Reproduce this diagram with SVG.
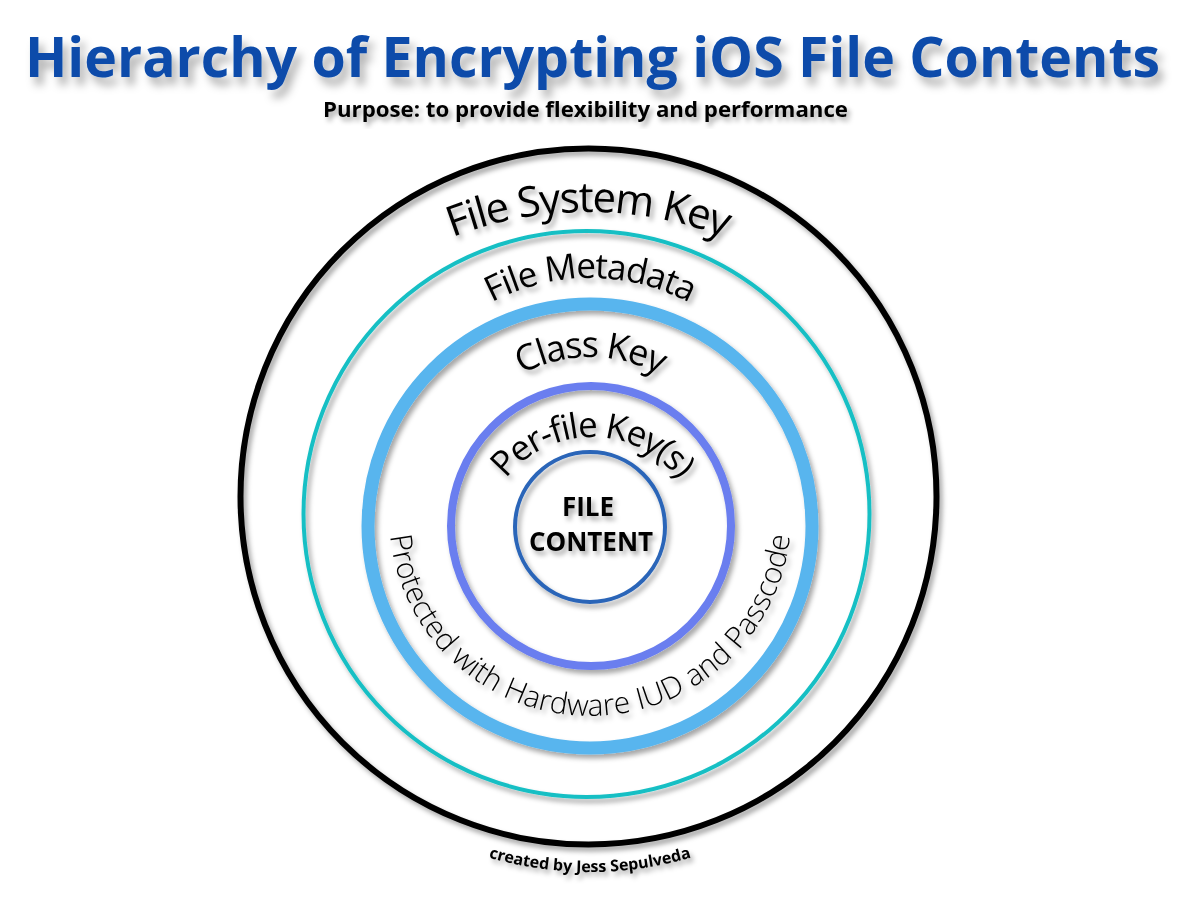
<svg xmlns="http://www.w3.org/2000/svg" xmlns:xlink="http://www.w3.org/1999/xlink" width="1200" height="901" viewBox="0 0 1200 901">
  <defs>
    <filter id="shadow" x="-20%" y="-20%" width="140%" height="140%">
      <feDropShadow dx="3" dy="4" stdDeviation="2.5" flood-color="#000" flood-opacity="0.35"/>
    </filter>
    <filter id="shadowBig" x="-10%" y="-30%" width="120%" height="170%">
      <feDropShadow dx="5" dy="8" stdDeviation="4" flood-color="#000" flood-opacity="0.3"/>
    </filter>
    <path id="p-fsk" d="M 209 591 A 379 379 0 0 1 967 591"/>
    <path id="p-fm" d="M 378 490 A 212 212 0 0 1 802 490"/>
    <path id="p-ck" d="M 444 503 A 146 146 0 0 1 736 503"/>
    <path id="p-pfk" d="M 482 547 A 110 110 0 0 1 702 547"/>
    <path id="p-prot" d="M 389 515 A 201 201 0 0 0 791 515"/>
    <path id="p-created" d="M 230 512 A 360 360 0 0 0 950 512"/>
  </defs>
  <style>
    .ring { fill: none; filter: url(#shadow); }
    .lbl { font-family: "Open Sans", "Liberation Sans", sans-serif; fill: #000; filter: url(#shadow); }
    .arc { font-weight: 400; }
    .bold { font-weight: 700; }
  </style>
  <rect width="1200" height="901" fill="#fff"/>

  <g id="title">
    <text x="592.5" y="77" text-anchor="middle" textLength="1135" lengthAdjust="spacingAndGlyphs" font-family="'Open Sans', 'Liberation Sans', sans-serif" font-weight="700" font-size="56" fill="#0B4BAA" filter="url(#shadowBig)">Hierarchy of Encrypting iOS File Contents</text>
    <text class="lbl bold" x="585.5" y="117" text-anchor="middle" textLength="525" lengthAdjust="spacingAndGlyphs" font-size="22">Purpose: to provide flexibility and performance</text>
  </g>

  <g id="file-system-key">
    <circle class="ring" cx="588.5" cy="496.5" r="348" stroke="#000" stroke-width="6"/>
    <text class="lbl arc" font-size="42" letter-spacing="-1.5"><textPath href="#p-fsk" xlink:href="#p-fsk" startOffset="50%" text-anchor="middle">File System Key</textPath></text>
  </g>

  <g id="file-metadata">
    <circle class="ring" cx="586.5" cy="514" r="283" stroke="#18BFC4" stroke-width="4"/>
    <text class="lbl arc" font-size="35" letter-spacing="-1.2"><textPath href="#p-fm" xlink:href="#p-fm" startOffset="50%" text-anchor="middle">File Metadata</textPath></text>
  </g>

  <g id="class-key">
    <circle class="ring" cx="590" cy="526" r="222" stroke="#58B5EE" stroke-width="13"/>
    <text class="lbl arc" font-size="36" letter-spacing="-1.5"><textPath href="#p-ck" xlink:href="#p-ck" startOffset="50%" text-anchor="middle">Class Key</textPath></text>
    <text class="lbl" font-size="30" font-weight="300"><textPath href="#p-prot" xlink:href="#p-prot" startOffset="50%" text-anchor="middle">Protected with Hardware IUD and Passcode</textPath></text>
  </g>

  <g id="per-file-keys">
    <circle class="ring" cx="591" cy="526" r="140" stroke="#6A7EEF" stroke-width="8"/>
    <text class="lbl arc" font-size="35" letter-spacing="-1.5"><textPath href="#p-pfk" xlink:href="#p-pfk" startOffset="50%" text-anchor="middle">Per-file Key(s)</textPath></text>
  </g>

  <g id="file-content">
    <circle class="ring" cx="590" cy="527" r="75" stroke="#2C65B8" stroke-width="4"/>
    <text class="lbl bold" x="588" y="516" text-anchor="middle" font-size="26">FILE</text>
    <text class="lbl bold" x="591" y="551" text-anchor="middle" font-size="26">CONTENT</text>
  </g>

  <g id="credit">
    <text class="lbl bold" font-size="16"><textPath href="#p-created" xlink:href="#p-created" startOffset="50%" text-anchor="middle">created by Jess Sepulveda</textPath></text>
  </g>

  <g id="connectors"/>
</svg>
